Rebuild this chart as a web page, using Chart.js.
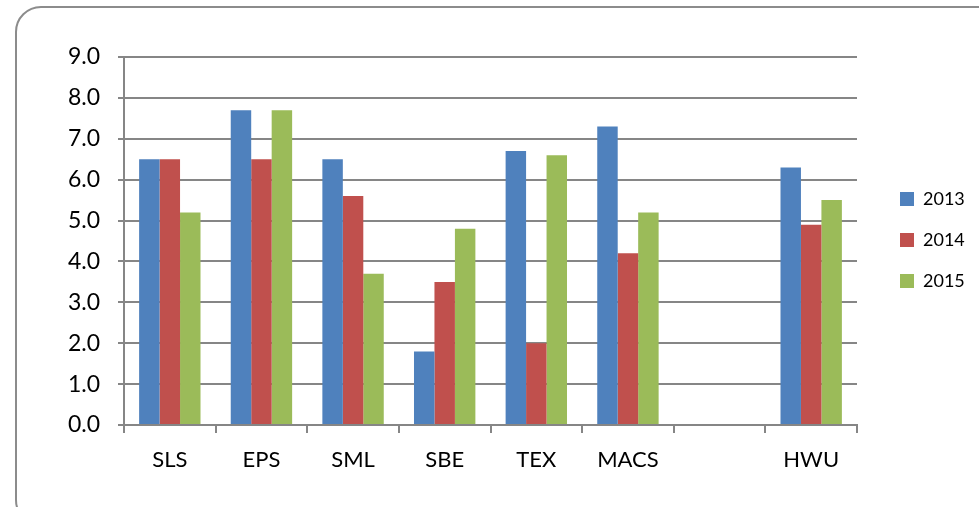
<!DOCTYPE html>
<html>
<head>
<meta charset="utf-8">
<script src="https://cdn.jsdelivr.net/npm/chart.js@4.4.0/dist/chart.umd.min.js"></script>
<style>
  html, body { margin: 0; padding: 0; background: #fff; overflow: hidden; }
  #wrap { position: relative; width: 979px; height: 507px; }
  #frame {
    position: absolute; left: 15px; top: 6px; width: 1000px; height: 520px;
    border: 2px solid #8c8c8c; border-radius: 26px; box-sizing: border-box;
  }
  #chart { position: absolute; left: 0; top: 0; }
</style>
</head>
<body>
<div id="wrap">
  <div id="frame"></div>
  <canvas id="chart" width="979" height="507"></canvas>
</div>
<script>
// Excel-style clustered column chart, three years per school
const categories = ['SLS', 'EPS', 'SML', 'SBE', 'TEX', 'MACS', '', 'HWU'];
const years = ['2013', '2014', '2015'];
const values2013 = [6.5, 7.7, 6.5, 1.8, 6.7, 7.3, null, 6.3];
const values2014 = [6.5, 6.5, 5.6, 3.5, 2.0, 4.2, null, 4.9];
const values2015 = [5.2, 7.7, 3.7, 4.8, 6.6, 5.2, null, 5.5];
const yTicks = [0, 1, 2, 3, 4, 5, 6, 7, 8, 9];

const colors = ['#4f81bd', '#c0504d', '#9bbb59'];
const fontFamily = "Lato, 'Open Sans', sans-serif";

// legend sits in a fixed-width column, nudged like Excel's
const legendPlacer = {
    id: 'legendPlacer',
    beforeInit(chart) {
        const fit = chart.legend.fit;
        chart.legend.fit = function () {
            fit.call(this);
            this.width = 122;
        };
    },
    afterLayout(chart) {
        const lg = chart.legend;
        lg.left += 20;
        lg.right += 20;
        lg.top -= 32;
        lg.bottom -= 32;
    }
};

const ctx = document.getElementById('chart').getContext('2d');

new Chart(ctx, {
    type: 'bar',
    data: {
        labels: categories,
        datasets: [values2013, values2014, values2015].map((vals, i) => ({
            label: years[i],
            data: vals,
            backgroundColor: colors[i],
            borderWidth: 0,
            categoryPercentage: 0.67,
            barPercentage: 1.0
        }))
    },
    options: {
        responsive: false,
        animation: false,
        layout: {
            padding: { left: 30, right: 0, top: 57, bottom: 20 }
        },
        plugins: {
            legend: {
                position: 'right',
                labels: {
                    boxWidth: 14,
                    boxHeight: 14,
                    padding: 23,
                    color: '#000',
                    font: { family: fontFamily, size: 18 }
                }
            },
            tooltip: { enabled: false }
        },
        scales: {
            x: {
                afterFit: axis => { axis.height = 62; },
                grid: {
                    offset: true,
                    drawOnChartArea: false,
                    color: '#868686',
                    lineWidth: 2,
                    tickLength: 8
                },
                border: { color: '#868686', width: 2 },
                ticks: {
                    color: '#000',
                    padding: 14,
                    font: { family: fontFamily, size: 22 }
                }
            },
            y: {
                min: 0,
                max: 9,
                afterFit: axis => { axis.width = 94; },
                afterBuildTicks: axis => { axis.ticks = yTicks.map(v => ({ value: v })); },
                grid: {
                    color: '#868686',
                    lineWidth: 2,
                    tickLength: 6
                },
                border: { color: '#868686', width: 2 },
                ticks: {
                    color: '#000',
                    padding: 18,
                    font: { family: fontFamily, size: 23 },
                    callback: v => v.toFixed(1)
                }
            }
        }
    },
    plugins: [legendPlacer]
});
</script>
</body>
</html>
